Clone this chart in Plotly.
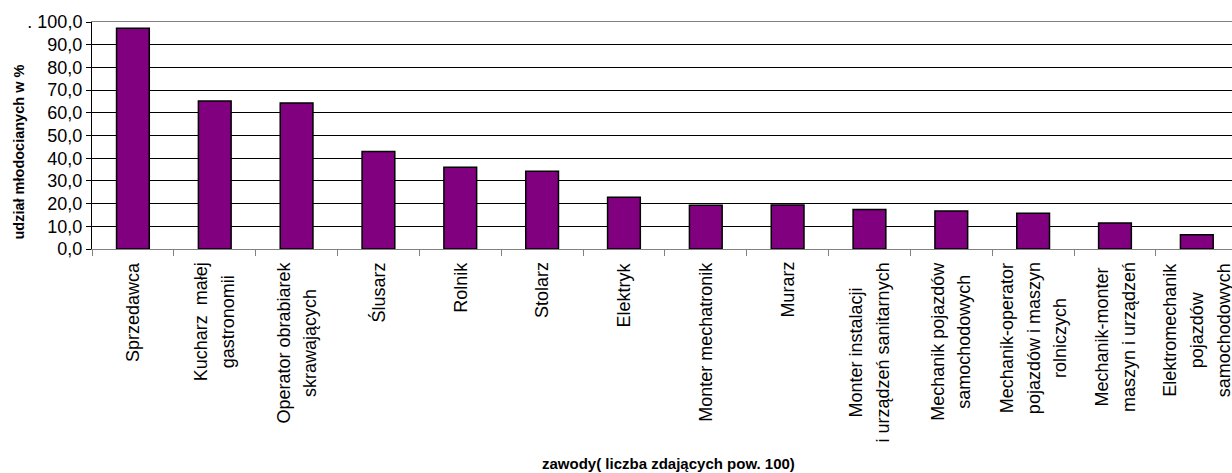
import plotly.graph_objects as go

categories = ["Sprzedawca", "Kucharz małej gastronomii", "Operator obrabiarek skrawających",
              "Ślusarz", "Rolnik", "Stolarz", "Elektryk", "Monter mechatronik", "Murarz",
              "Monter instalacji i urządzeń sanitarnych", "Mechanik pojazdów samochodowych",
              "Mechanik-operator pojazdów i maszyn rolniczych", "Mechanik-monter maszyn i urządzeń",
              "Elektromechanik pojazdów samochodowych"]
tick_labels = [["Sprzedawca"], ["Kucharz  małej", "gastronomii"], ["Operator obrabiarek", "skrawających"],
               ["Ślusarz"], ["Rolnik"], ["Stolarz"], ["Elektryk"], ["Monter mechatronik"], ["Murarz"],
               ["Monter instalacji", "i urządzeń sanitarnych"], ["Mechanik pojazdów", "samochodowych"],
               ["Mechanik-operator", "pojazdów i maszyn", "rolniczych"], ["Mechanik-monter", "maszyn i urządzeń"],
               ["Elektromechanik", "pojazdów", "samochodowych"]]
values = [97.2, 65.2, 64.3, 43.0, 36.0, 34.2, 22.8, 19.3, 19.4, 17.4, 16.7, 15.8, 11.4, 6.3]
y_ticks = [0, 10, 20, 30, 40, 50, 60, 70, 80, 90, 100]
y_ticktext = ["0,0", "10,0", "20,0", "30,0", "40,0", "50,0", "60,0", "70,0", "80,0", "90,0", ". 100,0"]
x_title = "zawody( liczba zdających pow. 100)"
y_title = "udział młodocianych w %"

FONT = "Liberation Sans, Arial, sans-serif"
W, H = 1232, 473
ML, MT, MB = 92, 22, 224
PW, PH = W - ML, H - MT - MB

fig = go.Figure(go.Bar(
    x=categories, y=values, width=0.4,
    marker=dict(color="#800080", line=dict(color="#000000", width=1.5)),
))

for cat, lines in zip(categories, tick_labels):
    txt = "<br>".join('<span style="font-size:18px">%s</span>' % l for l in lines)
    fig.add_annotation(x=cat, xref="x", y=0, yref="paper", yanchor="top", xanchor="center",
                       yshift=-11, text=txt, textangle=-90, align="center", showarrow=False,
                       font=dict(family=FONT, size=20.5, color="#000000"))

fig.add_annotation(text="<b>%s</b>" % x_title, xref="paper", yref="paper",
                   x=(668 - ML) / PW, y=-(463 - (MT + PH)) / PH, xanchor="center", yanchor="middle",
                   showarrow=False, font=dict(family=FONT, size=15, color="#000000"))
fig.add_annotation(text="<b>%s</b>" % y_title, xref="paper", yref="paper",
                   x=-(ML - 18.5) / PW, y=(MT + PH - 152) / PH, xanchor="center", yanchor="middle",
                   textangle=-90, showarrow=False, font=dict(family=FONT, size=14.5, color="#000000"))

fig.update_layout(
    width=W, height=H,
    margin=dict(l=ML, r=0, t=MT, b=MB, autoexpand=False),
    paper_bgcolor="white", plot_bgcolor="white",
    showlegend=False,
    font=dict(family=FONT, color="#000000"),
)

fig.update_xaxes(
    type="category", range=[-0.5, 13.43], showticklabels=False,
    tickson="boundaries", ticks="outside", ticklen=6, tickcolor="#808080",
    showline=True, mirror=True, linecolor="#808080", linewidth=1, showgrid=False, automargin=False,
)
fig.update_yaxes(
    range=[0, 100], tickvals=y_ticks, ticktext=y_ticktext,
    ticks="outside", ticklen=5, tickcolor="#000000",
    showline=True, linecolor="#000000", linewidth=1,
    showgrid=True, gridcolor="#000000", gridwidth=1, zeroline=False,
    tickfont=dict(family=FONT, size=18, color="#000000"), automargin=False,
)

fig.write_html("out.html", config={"displayModeBar": False},
               post_script="document.body.style.margin='0';")
